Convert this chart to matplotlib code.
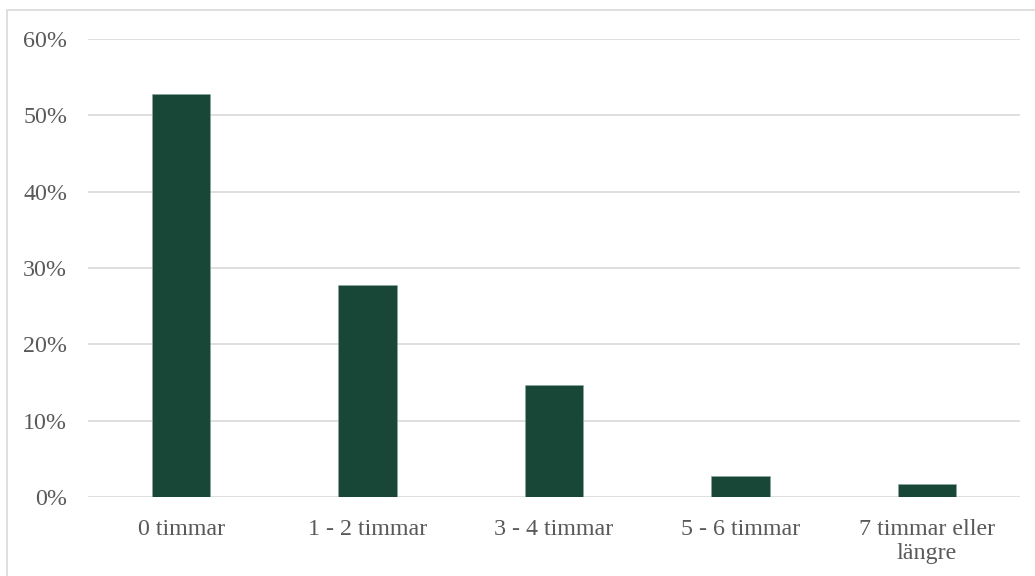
import matplotlib
matplotlib.use("Agg")
import matplotlib.pyplot as plt
from matplotlib.patches import Rectangle
from matplotlib.ticker import FuncFormatter, MultipleLocator

categories = ["0 timmar", "1 - 2 timmar", "3 - 4 timmar", "5 - 6 timmar", "7 timmar eller\nlängre"]
values = [52.8, 27.8, 14.7, 2.8, 1.7]

W, H = 1035, 576
fig = plt.figure(figsize=(W / 100, H / 100), dpi=100)
plt.rcParams['font.family'] = ['Liberation Serif', 'DejaVu Serif']

# outer frame
fig.patches.append(Rectangle((7 / W, -0.05), 1.1, (H - 10) / H + 0.05, transform=fig.transFigure,
                             fill=False, edgecolor="#d9d9d9", linewidth=1.2))

left, right, bottom, top = 88, 1020, 497, 39
ax = fig.add_axes([left / W, 1 - bottom / H, (right - left) / W, (bottom - top) / H])
x = list(range(len(categories)))
ax.bar(x, values, width=0.314, color="#194737", edgecolor="#8aa89c", linewidth=0.4, zorder=3)
ax.set_xlim(-0.5, len(categories) - 0.5)
ax.set_ylim(0, 60)
ax.yaxis.set_major_locator(MultipleLocator(10))
ax.yaxis.set_major_formatter(FuncFormatter(lambda v, p: f"{v:.0f}%"))
ax.grid(axis="y", color="#d9d9d9", linewidth=1.2, zorder=0)
for s in ax.spines.values():
    s.set_visible(False)
ax.tick_params(axis="both", length=0, labelsize=17.3, colors="#595959")
ax.tick_params(axis="y", pad=15)
ax.tick_params(axis="x", pad=16)
ax.set_xticks(x)
ax.set_xticklabels(categories, linespacing=1.15)

fig.savefig("out.png", dpi=100)
